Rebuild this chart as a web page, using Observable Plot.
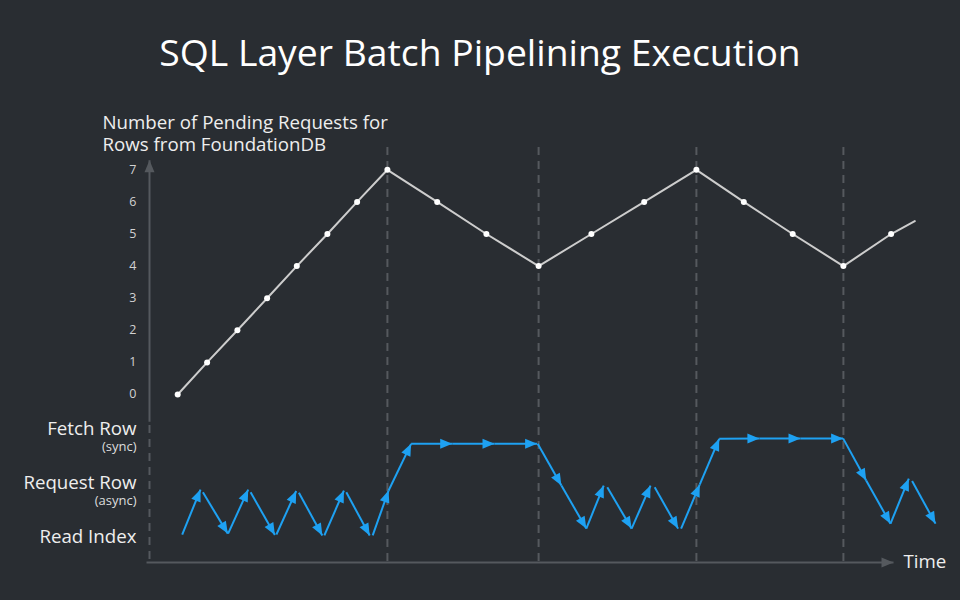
<!DOCTYPE html>
<html><head><meta charset="utf-8">
<script src="https://cdn.jsdelivr.net/npm/d3@7"></script>
<script src="https://cdn.jsdelivr.net/npm/@observablehq/plot@0.6"></script>
<style>
html,body{margin:0;padding:0;background:#292d32;}
#wrap{position:relative;width:960px;height:600px;background:#292d32;font-family:"Open Sans",sans-serif;overflow:hidden;}
#title{position:absolute;left:0;top:0;width:960px;text-align:center;color:#ffffff;font-size:37.3px;line-height:103px;white-space:nowrap;}
#wrap svg{position:absolute;left:0;top:0;}
</style></head>
<body><div id="wrap"><div id="title">SQL Layer Batch Pipelining Execution</div></div>
<script>
// ---- data (time in arbitrary units) ----
const countTicks = [0, 1, 2, 3, 4, 5, 6, 7];
const countTime  = [9.4, 19.2, 29.3, 39.2, 49.1, 59.3, 69.2, 79.3, 95.9, 112.3, 129.7, 147.3, 164.9, 182.3, 198.1, 214.4, 231.3, 247.2, 255.1];
const countValue = [0, 1, 2, 3, 4, 5, 6, 7, 6, 5, 4, 5, 6, 7, 6, 5, 4, 5, 5.4];
const phaseTime  = [79.3, 129.7, 182.3, 231.3];

const laneNames = ["Read Index", "Request Row", "Fetch Row"];
const laneNotes = ["", "(async)", "(sync)"];

const arrowFromTime  = [10.9,17.8,26.2,33.7,42.3,49.8,58.3,65.6,74.4,79.7,87.2,100.9,115.0, 129.4,137.3,145.6,152.6,160.7,168.4,177.2,183.4,189.9,203.3,217.0, 231.2,238.9,247.0,254.2];
const arrowFromLevel = [0,0.93,0.02,0.93,0,0.92,-0.02,0.93,-0.02,0.97,2.0,2.0,2.0, 2.0,1.08,0.13,1.04,0.13,1.04,0.13,1.10,2.11,2.12,2.12, 2.12,1.19,0.24,1.18];
const arrowToTime    = [17.0,26.1,32.9,41.8,48.9,57.6,64.8,73.4,79.7,87.2,100.9,115.0,129.2, 137.3,145.6,151.4,160.7,167.0,176.2,183.4,189.9,203.3,217.0,231.2, 238.9,247.0,253.1,262.0];
const arrowToLevel   = [0.99,0.02,0.99,-0.01,0.96,-0.02,0.97,-0.02,0.97,2.0,2.0,2.0,2.0, 1.08,0.13,1.08,0.13,1.08,0.13,1.10,2.11,2.12,2.12,2.12, 1.19,0.24,1.23,0.24];

const yTitle = "Number of Pending Requests for\nRows from FoundationDB";

// ---- styles ----
const AXIS = "#55595e", BLUE = "#1ea1f2", LINE = "#cdcdcd";

function tri(len, half) {
  return (color) => {
    const m = d3.create("svg:marker")
      .attr("viewBox", `${-len} ${-half} ${len} ${2 * half}`)
      .attr("markerUnits", "userSpaceOnUse")
      .attr("markerWidth", len)
      .attr("markerHeight", 2 * half)
      .attr("refX", 0).attr("refY", 0)
      .attr("orient", "auto")
      .attr("overflow", "visible");
    m.append("path").attr("d", `M${-len},${-half}L0,0L${-len},${half}Z`).attr("fill", color).attr("stroke", "none");
    return m.node();
  };
}

const svgStyle = {background: "transparent", color: "#d2d2d2", fontFamily: "'Open Sans', sans-serif", fontSize: "12.5px", overflow: "visible"};
const xScale = {domain: [0, 248], axis: null};

const idx = countTime.map((_, i) => i);
const topPlot = Plot.plot({
  width: 960, height: 600,
  marginLeft: 149, marginRight: 67, marginTop: 147, marginBottom: 38,
  x: xScale,
  y: {domain: [-5.234, 7.695], ticks: countTicks, tickSize: 0, tickPadding: 13, label: null, tickFormat: d3.format("d")},
  style: svgStyle,
  marks: [
    Plot.ruleX(phaseTime, {x: d => d, stroke: AXIS, strokeWidth: 2, strokeDasharray: "8,6"}),
    Plot.link([0], {x1: 0, x2: 0, y1: -0.85, y2: 7.3, stroke: AXIS, strokeWidth: 2, markerEnd: tri(12, 5)}),
    Plot.line(idx, {x: i => countTime[i], y: i => countValue[i], stroke: LINE, strokeWidth: 2}),
    Plot.dot(idx.slice(0, -1), {x: i => countTime[i], y: i => countValue[i], r: 3, fill: "#ffffff", stroke: "none"}),
    Plot.text([yTitle], {text: d => d, frameAnchor: "top-left", dx: -47, dy: 3, lineAnchor: "bottom", textAnchor: "start", fontSize: 18.7, fill: "#eeeeee", lineHeight: 1.17})
  ]
});

const aidx = arrowFromTime.map((_, i) => i);
const laneDy = [2.5, -6.6, -14.6];
const noteDy = [0, 11.6, 2.6];
const laneMarks = [];
laneNames.forEach((name, i) => {
  laneMarks.push(Plot.text([name], {text: d => d, x: 0, y: i, dx: -13, dy: laneDy[i], textAnchor: "end", lineAnchor: "middle", fontSize: 18.7, fill: "#eeeeee"}));
  if (laneNotes[i]) laneMarks.push(Plot.text([laneNotes[i]], {text: d => d, x: 0, y: i, dx: -13, dy: noteDy[i], textAnchor: "end", lineAnchor: "middle", fontSize: 13, fill: "#dddddd"}));
});

const lanePlot = Plot.plot({
  width: 960, height: 600,
  marginLeft: 149, marginRight: 67, marginTop: 425, marginBottom: 38,
  x: xScale,
  y: {domain: [-0.617, 2.404], axis: null},
  style: svgStyle,
  marks: [
    Plot.ruleX([0], {x: d => d, stroke: AXIS, strokeWidth: 2, strokeDasharray: "8,6"}),
    Plot.link([0], {x1: -1, x2: 248, y1: -0.617, y2: -0.617, stroke: AXIS, strokeWidth: 2, markerEnd: tri(12, 5)}),
    Plot.link(aidx, {x1: i => arrowFromTime[i], y1: i => arrowFromLevel[i], x2: i => arrowToTime[i], y2: i => arrowToLevel[i], stroke: BLUE, strokeWidth: 2, markerEnd: tri(12, 5)}),
    ...laneMarks,
    Plot.text(["Time"], {text: d => d, frameAnchor: "bottom-right", dx: 10, textAnchor: "start", lineAnchor: "middle", fontSize: 18.7, fill: "#eeeeee"})
  ]
});

const wrap = document.getElementById("wrap");
wrap.appendChild(topPlot);
wrap.appendChild(lanePlot);
</script>
</body></html>
